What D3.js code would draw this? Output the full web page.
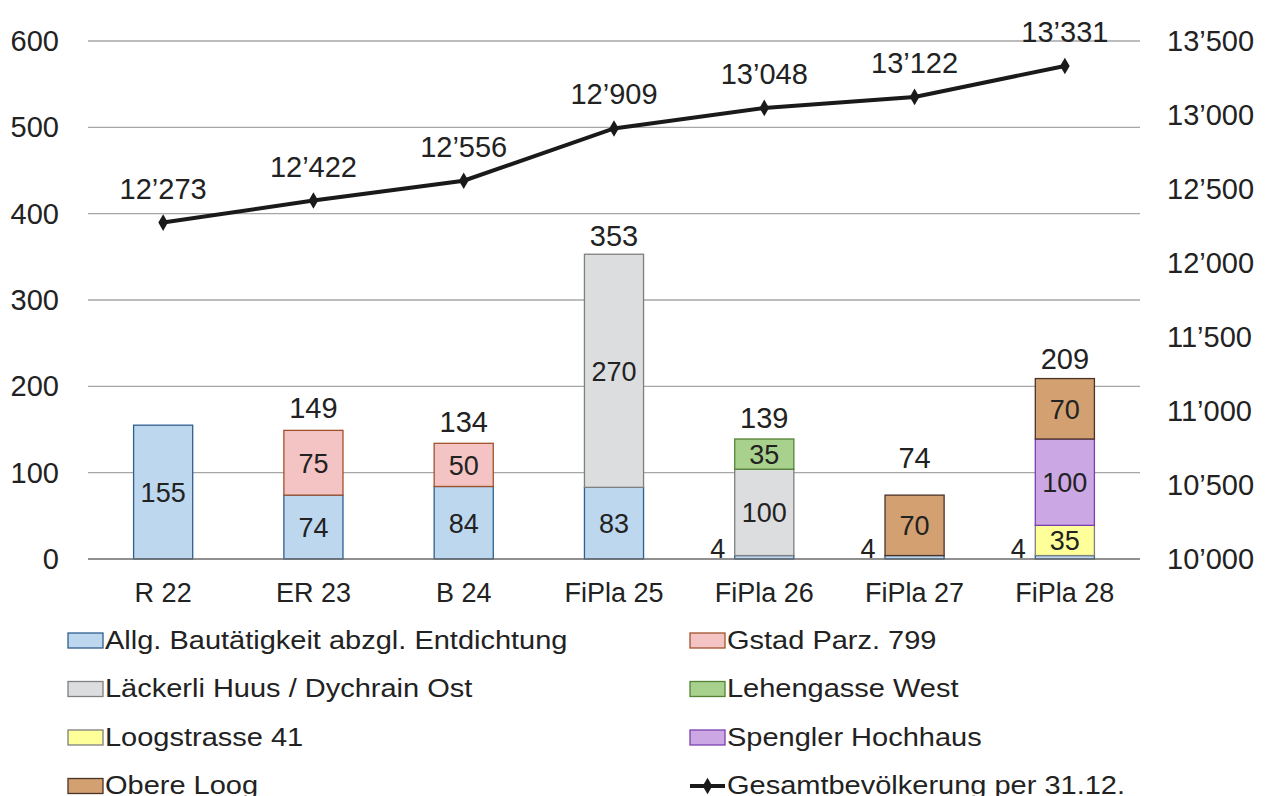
<!DOCTYPE html>
<html><head><meta charset="utf-8">
<script src="https://cdn.jsdelivr.net/npm/d3@7"></script>
<style>body{margin:0;background:#fff}svg{display:block;font-family:"Liberation Sans",Arial,sans-serif;fill:#222}</style>
</head><body><svg id="c" width="1266" height="796"></svg>
<script>
const categories = ["R 22","ER 23","B 24","FiPla 25","FiPla 26","FiPla 27","FiPla 28"];
const seriesNames = ["Allg. Bautätigkeit abzgl. Entdichtung","Gstad Parz. 799","Läckerli Huus / Dychrain Ost","Lehengasse West","Loogstrasse 41","Spengler Hochhaus","Obere Loog"];
const allg      = [155,74,84,83,4,4,4];
const gstad     = [0,75,50,0,0,0,0];
const laeckerli = [0,0,0,270,100,0,0];
const lehengasse= [0,0,0,0,35,0,0];
const loog41    = [0,0,0,0,0,0,35];
const spengler  = [0,0,0,0,0,0,100];
const obereLoog = [0,0,0,0,0,70,70];
const population = [12273,12422,12556,12909,13048,13122,13331];
const lineName = "Gesamtbevölkerung per 31.12.";
const leftTicks = [0,100,200,300,400,500,600];
const rightTicks = [10000,10500,11000,11500,12000,12500,13000,13500];

const fills   = ["#bdd7ee","#f4c3c3","#dcdddf","#a9d18e","#ffff99","#cba8e3","#d2a071"];
const strokes = ["#2f5f8f","#a0522d","#7f7f7f","#548235","#7f7f7f","#7a3fb0","#4a3328"];

const svg = d3.select("#c");
const x0 = 88, x1 = 1140, yB = 559, yT = 41;
const x = d3.scaleBand().domain(categories).range([x0,x1]).paddingInner(0.6).paddingOuter(0.3);
const yL = d3.scaleLinear().domain([0,600]).range([yB,yT]);
const yR = d3.scaleLinear().domain([10000,13500]).range([yB,yT]);
const fmt = v => d3.format(",")(v).replace(/,/g,"’");

// grid
svg.append("g").selectAll("line").data(leftTicks.filter(d=>d>0)).join("line")
  .attr("x1",x0).attr("x2",x1).attr("y1",d=>yL(d)).attr("y2",d=>yL(d))
  .attr("stroke","#a6a6a6").attr("stroke-width",1.3);

// axis labels
svg.append("g").selectAll("text").data(leftTicks).join("text")
  .attr("x",59).attr("y",d=>yL(d)+10).attr("text-anchor","end").attr("font-size",29).text(d=>d);
svg.append("g").selectAll("text").data(rightTicks).join("text")
  .attr("x",1167).attr("y",d=>yR(d)+10).attr("text-anchor","start").attr("font-size",29).text(d=>fmt(d));
svg.append("g").selectAll("text").data(categories).join("text")
  .attr("x",d=>x(d)+x.bandwidth()/2).attr("y",602).attr("text-anchor","middle").attr("font-size",27).text(d=>d);

// stacked bars
const rows = categories.map((c,i)=>({cat:c, s0:allg[i],s1:gstad[i],s2:laeckerli[i],s3:lehengasse[i],s4:loog41[i],s5:spengler[i],s6:obereLoog[i]}));
const keys = ["s0","s1","s2","s3","s4","s5","s6"];
const stack = d3.stack().keys(keys)(rows);
stack.forEach((layer,k)=>{
  const g = svg.append("g");
  layer.forEach((d,i)=>{
    const v = d[1]-d[0];
    if(v<=0) return;
    g.append("rect").attr("x",x(categories[i])+0.5).attr("width",x.bandwidth()-1)
      .attr("y",yL(d[1])).attr("height",yL(d[0])-yL(d[1]))
      .attr("fill",fills[k]).attr("stroke",strokes[k]).attr("stroke-width",1.3);
  });
});
// segment labels
stack.forEach((layer,k)=>{
  layer.forEach((d,i)=>{
    const v = d[1]-d[0];
    if(v<=0) return;
    const cx = x(categories[i])+x.bandwidth()/2;
    if(v<20){
      svg.append("text").attr("x",x(categories[i])-9).attr("y",yL(d[0])-1).attr("text-anchor","end").attr("font-size",27).text(v);
    } else {
      svg.append("text").attr("x",cx).attr("y",(yL(d[0])+yL(d[1]))/2+10).attr("text-anchor","middle").attr("font-size",27).text(v);
    }
  });
});
// baseline
svg.append("line").attr("x1",x0).attr("x2",x1).attr("y1",yB).attr("y2",yB).attr("stroke","#6b6b6b").attr("stroke-width",1.6);

// totals
const totals = rows.map(r=>keys.reduce((a,k)=>a+r[k],0));
const totalLift = [null,12,11,8,11,27,10];
totals.forEach((t,i)=>{
  if(totalLift[i]===null) return;
  svg.append("text").attr("x",x(categories[i])+x.bandwidth()/2).attr("y",yL(t)-totalLift[i])
    .attr("text-anchor","middle").attr("font-size",29).text(t);
});

// line
const cxs = categories.map(c=>x(c)+x.bandwidth()/2);
const line = d3.line().x((d,i)=>cxs[i]).y(d=>yR(d));
svg.append("path").datum(population).attr("d",line).attr("fill","none").attr("stroke","#1a1a1a").attr("stroke-width",4);
svg.append("g").selectAll("path").data(population).join("path")
  .attr("transform",(d,i)=>`translate(${cxs[i]},${yR(d)})`)
  .attr("d",d3.symbol(d3.symbolDiamond,80)).attr("fill","#1a1a1a");
svg.append("g").selectAll("text").data(population).join("text")
  .attr("x",(d,i)=>cxs[i]).attr("y",d=>yR(d)-24).attr("text-anchor","middle").attr("font-size",29).text(d=>fmt(d));

// legend
const leg = svg.append("g");
const legItems = seriesNames.map((n,k)=>({n,k})).concat([{n:lineName,k:-1}]);
legItems.forEach((it,j)=>{
  const col = j%2, row = Math.floor(j/2);
  const lx = col===0?68:690, ly = 640.5+row*48.5;
  if(it.k>=0){
    leg.append("rect").attr("x",lx).attr("y",ly-7.5).attr("width",35).attr("height",15)
      .attr("fill",fills[it.k]).attr("stroke",strokes[it.k]).attr("stroke-width",1.3);
  } else {
    leg.append("line").attr("x1",lx).attr("x2",lx+35).attr("y1",ly).attr("y2",ly).attr("stroke","#1a1a1a").attr("stroke-width",4);
    leg.append("path").attr("transform",`translate(${lx+17.5},${ly})`).attr("d",d3.symbol(d3.symbolDiamond,80)).attr("fill","#1a1a1a");
  }
  leg.append("text").attr("transform",`translate(${lx+37},${ly+8}) scale(1.16,1)`).attr("font-size",25).text(it.n);
});
</script></body></html>
